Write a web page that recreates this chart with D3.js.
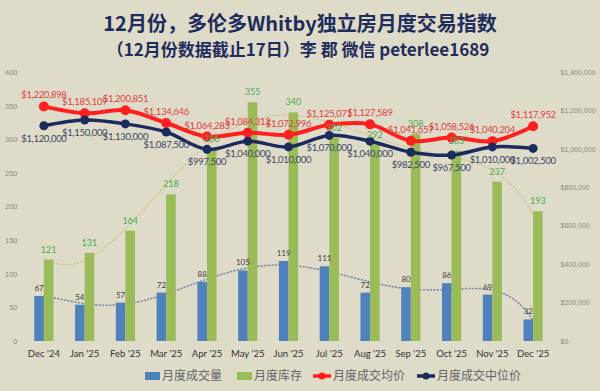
<!DOCTYPE html>
<html>
<head>
<meta charset="utf-8">
<script src="https://cdn.jsdelivr.net/npm/d3@7"></script>
<style>
  html, body { margin: 0; padding: 0; background: #dfdbc9; }
  svg { display: block; }
</style>
</head>
<body>
<svg id="chart" width="600" height="391"></svg>
<script>
const months = ["Dec '24", "Jan '25", "Feb '25", "Mar '25", "Apr '25", "May '25", "Jun '25",
  "Jul '25", "Aug '25", "Sep '25", "Oct '25", "Nov '25", "Dec '25"];
const sales = [67, 54, 57, 72, 88, 105, 119, 111, 72, 80, 86, 69, 32];
const inventory = [121, 131, 164, 218, 286, 355, 340, 302, 292, 308, 283, 237, 193];
const avgPrice = [1220898, 1185109, 1200851, 1134646, 1064283, 1084312, 1072996,
  1125071, 1127589, 1041657, 1058526, 1040204, 1117952];
const medianPrice = [1120000, 1150000, 1130000, 1087500, 997500, 1040000, 1010000,
  1070000, 1040000, 982500, 967500, 1010000, 1002500];
const leftTicks = [0, 50, 100, 150, 200, 250, 300, 350, 400];
const rightTicks = [0, 200000, 400000, 600000, 800000, 1000000, 1200000, 1400000];
const legendItems = ["月度成交量", "月度库存", "月度成交均价", "月度成交中位价"];

const svg = d3.select("#chart");
const W = 600, H = 391;
const plot = { left: 23.5, right: 553.5, top: 72, bottom: 341 };

const col = {
  blue: "#4f81bd", green: "#9bbb59", red: "#ff1f1f", navy: "#1c2a5e",
  redText: "#e2413f", navyText: "#3c4863", greenText: "#4eaa56", darkText: "#404040"
};

// title
svg.append("text")
  .attr("x", W / 2).attr("y", 31)
  .attr("text-anchor", "middle")
  .style("font-family", "'Noto Sans CJK SC', 'Noto Sans', sans-serif")
  .style("font-weight", "bold").style("font-size", "20px")
  .attr("fill", "#1f2d5c")
  .text("12月份，多伦多Whitby独立房月度交易指数");
svg.append("text")
  .attr("x", W / 2 - 2).attr("y", 56)
  .attr("text-anchor", "middle")
  .style("font-family", "'Noto Sans CJK SC', 'Noto Sans', sans-serif")
  .style("font-weight", "bold").style("font-size", "17px")
  .attr("fill", "#1f2d5c")
  .text("（12月份数据截止17日）李 郡 微信 peterlee1689");

const x = d3.scaleBand().domain(months).range([plot.left, plot.right]).padding(0);
const yL = d3.scaleLinear().domain([0, 400]).range([plot.bottom, plot.top]);
const yR = d3.scaleLinear().domain([0, 1400000]).range([plot.bottom, plot.top]);
const cx = d => x(d) + x.bandwidth() / 2;
const barW = x.bandwidth() * 0.235;

// axes (no lines, labels only)
const axisFont = "'Liberation Sans', Arial, sans-serif";
const gL = svg.append("g").attr("transform", `translate(${plot.left - 6},0)`)
  .call(d3.axisLeft(yL).tickValues(leftTicks).tickSize(0).tickPadding(0));
gL.select(".domain").remove();
gL.selectAll("text").attr("fill", "#8c8b80").style("font-size", "7.5px").style("font-family", axisFont);

const gR = svg.append("g").attr("transform", `translate(${plot.right + 7},0)`)
  .call(d3.axisRight(yR).tickValues(rightTicks).tickSize(0).tickPadding(0)
    .tickFormat(d => "$" + d3.format(",")(d)));
gR.select(".domain").remove();
gR.selectAll("text").attr("fill", "#8c8b80").style("font-size", "7px").style("font-family", axisFont);

const gX = svg.append("g").attr("transform", `translate(0,${plot.bottom + 9})`)
  .call(d3.axisBottom(x).tickSize(0).tickPadding(0));
gX.select(".domain").remove();
gX.selectAll("text").attr("fill", "#333").attr("dy", "0.75em")
  .style("font-size", "9.5px").style("font-family", "Lato, 'Open Sans', sans-serif");

// polynomial trendline (least squares)
function polyFit(ys, deg) {
  const n = deg + 1;
  const A = Array.from({ length: n }, () => new Array(n + 1).fill(0));
  ys.forEach((yv, i) => {
    const xv = i + 1;
    for (let r = 0; r < n; r++) {
      for (let c = 0; c < n; c++) A[r][c] += Math.pow(xv, r + c);
      A[r][n] += yv * Math.pow(xv, r);
    }
  });
  for (let p = 0; p < n; p++) {
    let m = p;
    for (let r = p + 1; r < n; r++) if (Math.abs(A[r][p]) > Math.abs(A[m][p])) m = r;
    [A[p], A[m]] = [A[m], A[p]];
    for (let r = 0; r < n; r++) {
      if (r === p) continue;
      const f = A[r][p] / A[p][p];
      for (let c = p; c <= n; c++) A[r][c] -= f * A[p][c];
    }
  }
  const coef = A.map((row, i) => row[n] / row[i]);
  return t => coef.reduce((s, c, i) => s + c * Math.pow(t, i), 0);
}

function trend(ys, deg, color, width, dash) {
  const f = polyFit(ys, deg);
  const pts = d3.range(1, ys.length + 0.001, 0.1).map(t => [
    x(months[0]) + x.bandwidth() / 2 + (t - 1) * x.bandwidth(), yL(f(t))]);
  svg.append("path")
    .attr("d", d3.line()(pts))
    .attr("fill", "none").attr("stroke", color)
    .attr("stroke-width", width).attr("stroke-dasharray", dash)
    .attr("stroke-linecap", "round");
}
trend(inventory, 6, "#cfc690", 1.2, "1.5,2");
trend(sales, 6, "#7d8ea8", 1.6, "1,2.5");

// bars
svg.append("g").selectAll("rect").data(sales).join("rect")
  .attr("x", (d, i) => cx(months[i]) - barW)
  .attr("y", d => yL(d)).attr("width", barW)
  .attr("height", d => yL(0) - yL(d)).attr("fill", col.blue);
svg.append("g").selectAll("rect").data(inventory).join("rect")
  .attr("x", (d, i) => cx(months[i]))
  .attr("y", d => yL(d)).attr("width", barW)
  .attr("height", d => yL(0) - yL(d)).attr("fill", col.green);

// price lines
function priceLine(vals, color, width, r) {
  const line = d3.line().x((d, i) => cx(months[i])).y(d => yR(d)).curve(d3.curveCatmullRom.alpha(0.5));
  svg.append("path").datum(vals).attr("d", line)
    .attr("fill", "none").attr("stroke", color).attr("stroke-width", width);
  svg.append("g").selectAll("circle").data(vals).join("circle")
    .attr("cx", (d, i) => cx(months[i])).attr("cy", d => yR(d))
    .attr("r", r).attr("fill", color);
}
priceLine(avgPrice, col.red, 4, 5);
priceLine(medianPrice, col.navy, 3.5, 4.5);

// labels
const labFont = "Lato, 'Open Sans', sans-serif";
function labels(vals, fx, fy, color, fmt, size, ls) {
  svg.append("g").selectAll("text").data(vals).join("text")
    .attr("x", (d, i) => fx(d, i)).attr("y", (d, i) => fy(d, i))
    .attr("text-anchor", "middle")
    .attr("fill", color)
    .style("font-family", labFont).style("font-size", size)
    .style("letter-spacing", ls || "0px")
    .text(fmt);
}
const money = d => "$" + d3.format(",")(d);
labels(sales, (d, i) => cx(months[i]) - barW / 2, d => yL(d) - 5, col.darkText, d => d, "8px");
labels(inventory, (d, i) => cx(months[i]) + barW / 2, d => yL(d) - 7, col.greenText, d => d, "9px");
labels(avgPrice, (d, i) => cx(months[i]), d => yR(d) - 8, col.redText, money, "9.5px", "-0.3px");
labels(medianPrice, (d, i) => cx(months[i]), d => yR(d) + 16, col.navyText, money, "9.5px", "-0.3px");

// legend
const legFont = "'Noto Sans CJK SC', sans-serif";
const legX = [145, 237, 313, 417];
const lg = svg.append("g");
legendItems.forEach((name, i) => {
  const g = lg.append("g").attr("transform", `translate(${legX[i]},376)`);
  if (i < 2) {
    g.append("rect").attr("x", 0).attr("y", -4).attr("width", 15).attr("height", 8)
      .attr("fill", i === 0 ? col.blue : col.green);
  } else {
    const c = i === 2 ? col.red : col.navy;
    g.append("line").attr("x1", 0).attr("x2", 18).attr("y1", 0).attr("y2", 0)
      .attr("stroke", c).attr("stroke-width", 3.5);
    g.append("circle").attr("cx", 9).attr("cy", 0).attr("r", 3.5).attr("fill", c);
  }
  g.append("text").attr("x", i < 2 ? 17 : 20).attr("y", 0).attr("dy", "0.35em")
    .attr("fill", "#666").style("font-family", legFont).style("font-size", "12px")
    .text(name);
});
</script>
</body>
</html>
